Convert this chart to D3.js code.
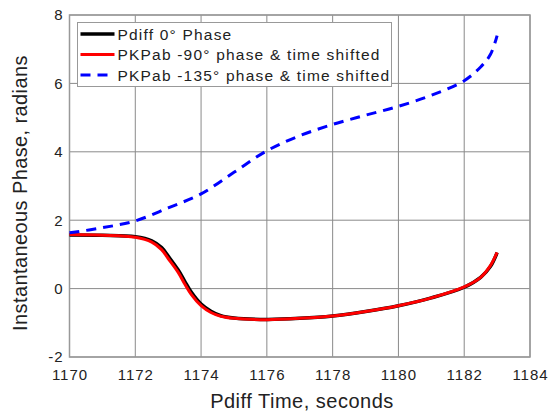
<!DOCTYPE html>
<html>
<head>
<meta charset="utf-8">
<script src="https://cdn.jsdelivr.net/npm/d3@7"></script>
<style>
  body { margin: 0; background: #fff; }
  svg { font-family: "Liberation Sans", Arial, Helvetica, sans-serif; }
  .grid line { stroke: #8a8a8a; stroke-width: 1; }
  .tick text { font-size: 15px; fill: #222; letter-spacing: 1px; }
</style>
</head>
<body>
<div id="chart"></div>
<script>
// 数据
var xTicks = [1170, 1172, 1174, 1176, 1178, 1180, 1182, 1184];
var yTicks = [-2, 0, 2, 4, 6, 8];

var pdiffTime  = [1170, 1171, 1172, 1172.5, 1172.8, 1173, 1173.3, 1173.5, 1173.7, 1174, 1174.3, 1174.6, 1175, 1176, 1177, 1178, 1179, 1180, 1181, 1182, 1182.5, 1182.8, 1183];
var pdiffPhase = [1.57, 1.56, 1.52, 1.40, 1.20, 0.95, 0.55, 0.22, -0.10, -0.45, -0.66, -0.79, -0.86, -0.90, -0.87, -0.80, -0.67, -0.50, -0.27, 0.04, 0.33, 0.65, 1.05];

var pkp90Time  = [1170, 1171, 1172, 1172.5, 1172.8, 1173, 1173.3, 1173.5, 1173.7, 1174, 1174.3, 1174.6, 1175, 1176, 1177, 1178, 1179, 1180, 1181, 1182, 1182.5, 1182.8, 1183];
var pkp90Phase = [1.58, 1.56, 1.50, 1.36, 1.14, 0.88, 0.48, 0.14, -0.17, -0.50, -0.70, -0.81, -0.87, -0.91, -0.87, -0.80, -0.67, -0.50, -0.27, 0.05, 0.33, 0.68, 1.06];

var pkp135Time  = [1170, 1171, 1172, 1173, 1174, 1175, 1176, 1177, 1178, 1179, 1180, 1181, 1182, 1182.5, 1182.8, 1183];
var pkp135Phase = [1.63, 1.78, 1.98, 2.36, 2.77, 3.40, 4.03, 4.47, 4.80, 5.07, 5.33, 5.65, 6.08, 6.48, 6.85, 7.40];

var legendNames = ['Pdiff 0° Phase', 'PKPab -90° phase & time shifted', 'PKPab -135° phase & time shifted'];

var width = 549, height = 415;
var margin = {top: 15, right: 19, bottom: 58, left: 69.5};

var svg = d3.select('#chart').append('svg')
    .attr('width', width)
    .attr('height', height);

var x = d3.scaleLinear().domain([1170, 1184]).range([margin.left, width - margin.right]);
var y = d3.scaleLinear().domain([-2, 8]).range([height - margin.bottom, margin.top]);

// 网格
var grid = svg.append('g').classed('grid', true);
grid.selectAll('line.v').data(xTicks).enter().append('line')
    .attr('x1', function(d) { return x(d); })
    .attr('x2', function(d) { return x(d); })
    .attr('y1', y(-2)).attr('y2', y(8));
grid.selectAll('line.h').data(yTicks).enter().append('line')
    .attr('y1', function(d) { return y(d); })
    .attr('y2', function(d) { return y(d); })
    .attr('x1', x(1170)).attr('x2', x(1184));

svg.append('rect')
    .attr('x', x(1170)).attr('y', y(8))
    .attr('width', x(1184) - x(1170)).attr('height', y(-2) - y(8))
    .attr('fill', 'none').attr('stroke', '#999').attr('stroke-width', 1.5);

// 坐标轴
var xAxis = svg.append('g')
    .attr('transform', 'translate(0,' + y(-2) + ')')
    .call(d3.axisBottom(x).tickValues(xTicks).tickSize(0).tickPadding(12).tickFormat(function(d) { return String(d); }));
xAxis.select('.domain').remove();

var yAxis = svg.append('g')
    .attr('transform', 'translate(' + x(1170) + ',0)')
    .call(d3.axisLeft(y).tickValues(yTicks).tickSize(0).tickPadding(6).tickFormat(function(d) { return String(d); }));
yAxis.select('.domain').remove();

// 曲线
var line = d3.line()
    .x(function(d) { return x(d[0]); })
    .y(function(d) { return y(d[1]); })
    .curve(d3.curveCatmullRom.alpha(0.5));

var series = [
    {t: pdiffTime, v: pdiffPhase, color: '#000', w: 3.5, dash: null},
    {t: pkp90Time, v: pkp90Phase, color: '#ff0000', w: 3, dash: null},
    {t: pkp135Time, v: pkp135Phase, color: '#0000ff', w: 3, dash: '10,7'}
];

series.forEach(function(s) {
    var pts = s.t.map(function(t, i) { return [t, s.v[i]]; });
    svg.append('path')
        .datum(pts)
        .attr('d', line)
        .attr('fill', 'none')
        .attr('stroke', s.color)
        .attr('stroke-width', s.w)
        .attr('stroke-dasharray', s.dash);
});

// 图例
var legend = svg.append('g').attr('transform', 'translate(77.5,22.5)');
legend.append('rect')
    .attr('width', 314).attr('height', 64)
    .attr('fill', '#fff').attr('stroke', '#999').attr('stroke-width', 1);
series.forEach(function(s, i) {
    var yy = 11.5 + i * 20.5;
    legend.append('line')
        .attr('x1', 3).attr('x2', 37)
        .attr('y1', yy).attr('y2', yy)
        .attr('stroke', s.color)
        .attr('stroke-width', s.w)
        .attr('stroke-dasharray', s.dash);
    legend.append('text')
        .attr('x', 40).attr('y', yy)
        .attr('dy', '0.36em')
        .style('font-size', '15.5px')
        .style('letter-spacing', '1.2px')
        .attr('fill', '#222')
        .text(legendNames[i]);
});

// 坐标轴标题
svg.append('text')
    .attr('x', 302)
    .attr('y', 408)
    .style('text-anchor', 'middle')
    .style('font-size', '20px')
    .style('letter-spacing', '0.5px')
    .attr('fill', '#222')
    .text('Pdiff Time, seconds');

svg.append('text')
    .attr('transform', 'translate(27,193) rotate(-90)')
    .style('text-anchor', 'middle')
    .style('font-size', '20px')
    .style('letter-spacing', '0.4px')
    .attr('fill', '#222')
    .text('Instantaneous Phase, radians');
</script>
</body>
</html>
